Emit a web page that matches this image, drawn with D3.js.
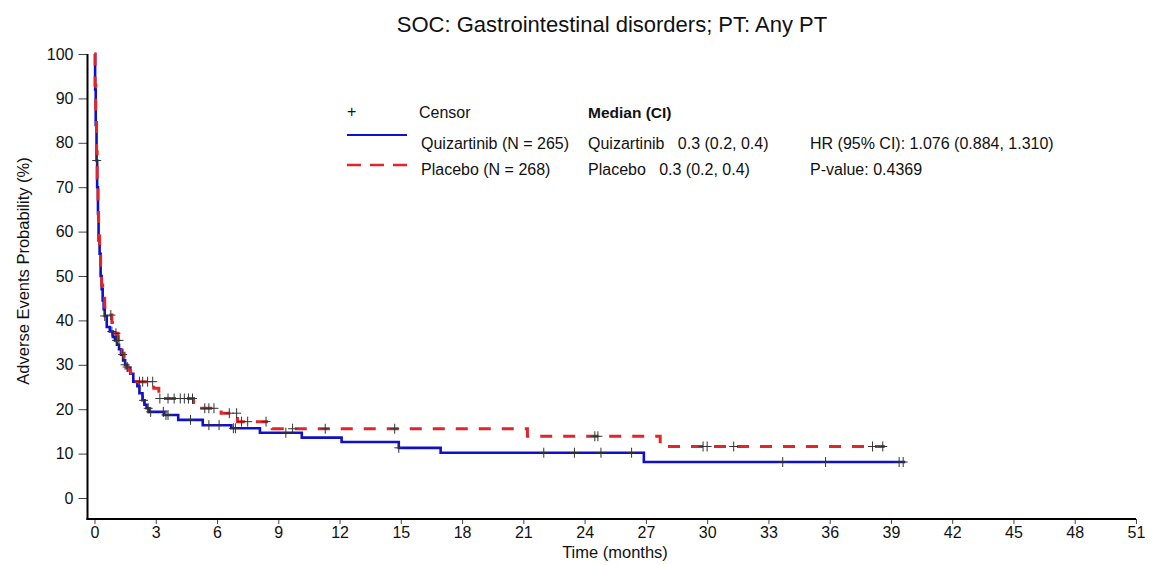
<!DOCTYPE html>
<html><head><meta charset="utf-8">
<script src="https://cdn.jsdelivr.net/npm/d3@7"></script>
<style>
body{margin:0;background:#fff;}
svg text{font-family:"Liberation Sans",Arial,sans-serif;fill:#111;}
</style></head>
<body><svg id="c" width="1154" height="565"></svg>
<script>
// ---- data ----
const xTicks = [0,3,6,9,12,15,18,21,24,27,30,33,36,39,42,45,48,51];
const yTicks = [0,10,20,30,40,50,60,70,80,90,100];
// Quizartinib step curve: [time (months), probability (%)]
const quizSteps = [[0,100],[0.03,92],[0.06,84],[0.1,76],[0.13,70],[0.17,64],[0.2,58],[0.25,55],[0.3,50],[0.35,47],[0.4,44.5],[0.45,42.5],[0.5,41],[0.6,38.5],[0.75,37.5],[0.9,36.3],[1.0,35.5],[1.1,34.5],[1.2,33.5],[1.3,32.3],[1.4,31],[1.5,30],[1.6,29.3],[1.75,28],[1.9,26.2],[2.1,25.2],[2.2,23.6],[2.35,22],[2.45,21],[2.55,20.2],[2.65,19.4],[3.4,18.7],[4.1,17.6],[5.3,16.4],[6.7,15.7],[8.1,14.7],[10.15,13.6],[12.1,12.6],[14.9,11.3],[16.95,10.2],[26.9,8.1],[39.7,8.1]];
const quizCensor = [0.11,0.5,0.85,1.08,1.38,1.5,2.4,2.63,2.75,3.37,3.5,3.6,4.7,5.6,6.1,6.8,6.9,9.37,14.9,22.0,23.5,24.8,26.3,33.7,35.8,39.4,39.6];
// Placebo step curve
const placeboSteps = [[0,100],[0.03,93],[0.06,86],[0.1,78],[0.13,72],[0.17,65],[0.2,59],[0.25,55],[0.3,50.5],[0.35,48],[0.4,45.5],[0.5,43],[0.6,41.2],[0.85,39.5],[1.0,37.1],[1.15,35.5],[1.25,34.4],[1.35,32.6],[1.45,31],[1.55,29.5],[1.65,28.8],[1.77,27.5],[1.9,26.2],[2.9,24.7],[3.15,22.4],[4.85,20.2],[6.2,19.1],[7.0,17.2],[8.7,15.6],[21.2,13.9],[27.7,11.6],[38.7,11.6]];
const placeboCensor = [0.8,1.05,1.2,1.6,2.2,2.36,2.6,2.85,3.2,3.6,3.9,4.2,4.4,4.6,4.8,5.4,5.6,5.85,6.6,6.96,7.2,7.5,8.4,9.7,11.3,14.7,24.5,24.65,29.8,30.0,31.3,38.1,38.6];
const seriesNames = ["Quizartinib (N = 265)","Placebo (N = 268)"];
const medianRows = ["Quizartinib   0.3 (0.2, 0.4)","Placebo   0.3 (0.2, 0.4)"];
const statRows = ["HR (95% CI): 1.076 (0.884, 1.310)","P-value: 0.4369"];

const BLUE="#1010c8", RED="#e0262b";
const svg = d3.select("#c");
const x = d3.scaleLinear().domain([0,51]).range([94.5,1136]);
const y = d3.scaleLinear().domain([0,100]).range([498,54]);
const axX = 87.5, axY = 519;

// title
svg.append("text").attr("x",612).attr("y",32).attr("text-anchor","middle").style("font-size","22px").text("SOC: Gastrointestinal disorders; PT: Any PT");

// y axis
const ya = svg.append("g").attr("transform",`translate(${axX},0)`).call(d3.axisLeft(y).tickValues(yTicks).tickSize(9).tickPadding(5));
ya.select(".domain").remove();
ya.selectAll("text").style("font-size","16px").style("font-family","Liberation Sans, Arial, sans-serif").attr("fill","#111");
ya.selectAll("line").attr("stroke","#444");
// x axis
const xa = svg.append("g").attr("transform",`translate(0,${axY})`).call(d3.axisBottom(x).tickValues(xTicks).tickSize(5).tickPadding(3));
xa.select(".domain").remove();
xa.selectAll("text").style("font-size","16px").style("font-family","Liberation Sans, Arial, sans-serif").attr("fill","#111");
xa.selectAll("line").attr("stroke","#444");
svg.append("line").attr("x1",axX).attr("x2",axX).attr("y1",y(100)).attr("y2",axY+1).attr("stroke","#000").attr("stroke-width",2);
svg.append("line").attr("x1",axX-1).attr("x2",x(51)).attr("y1",axY).attr("y2",axY).attr("stroke","#000").attr("stroke-width",2);

svg.append("text").attr("x",615).attr("y",558).attr("text-anchor","middle").style("font-size","16.5px").text("Time (months)");
svg.append("text").attr("transform",`translate(29,271) rotate(-90)`).attr("text-anchor","middle").style("font-size","16.5px").text("Adverse Events Probability (%)");

// curves
const line = d3.line().x(d=>x(d[0])).y(d=>y(d[1])).curve(d3.curveStepAfter);
svg.append("path").datum(quizSteps).attr("d",line).attr("fill","none").attr("stroke",BLUE).attr("stroke-width",2.6);
svg.append("path").datum(placeboSteps).attr("d",line).attr("fill","none").attr("stroke",RED).attr("stroke-width",3).attr("stroke-dasharray","12,11");

function valAt(steps,t){let v=steps[0][1];for(const s of steps){if(s[0]<=t)v=s[1];else break;}return v;}
function censors(times,steps){
  const g=svg.append("g");
  times.forEach(t=>{
    const cx=x(t), cy=y(valAt(steps,t));
    g.append("line").attr("x1",cx-4.5).attr("x2",cx+4.5).attr("y1",cy).attr("y2",cy).attr("stroke","#333").attr("stroke-width",1);
    g.append("line").attr("x1",cx).attr("x2",cx).attr("y1",cy-5).attr("y2",cy+5).attr("stroke","#333").attr("stroke-width",1);
  });
}
censors(quizCensor,quizSteps);
censors(placeboCensor,placeboSteps);

// legend
const lg = svg.append("g");
lg.append("text").attr("x",347).attr("y",117).style("font-size","16px").text("+");
lg.append("text").attr("x",419).attr("y",117.5).style("font-size","16px").text("Censor");
lg.append("text").attr("x",588).attr("y",117.5).style("font-size","15.5px").style("font-weight","bold").text("Median (CI)");
lg.append("line").attr("x1",347).attr("x2",407).attr("y1",135).attr("y2",135).attr("stroke",BLUE).attr("stroke-width",2);
lg.append("line").attr("x1",347).attr("x2",407).attr("y1",165).attr("y2",165).attr("stroke",RED).attr("stroke-width",2.5).attr("stroke-dasharray","14,9");
const rowsY=[149,175];
seriesNames.forEach((s,i)=>lg.append("text").attr("x",421).attr("y",rowsY[i]).style("font-size","16px").text(s));
medianRows.forEach((s,i)=>lg.append("text").attr("x",588).attr("y",rowsY[i]).style("font-size","16px").style("white-space","pre").text(s));
statRows.forEach((s,i)=>lg.append("text").attr("x",810).attr("y",rowsY[i]).style("font-size","16px").text(s));
</script></body></html>
